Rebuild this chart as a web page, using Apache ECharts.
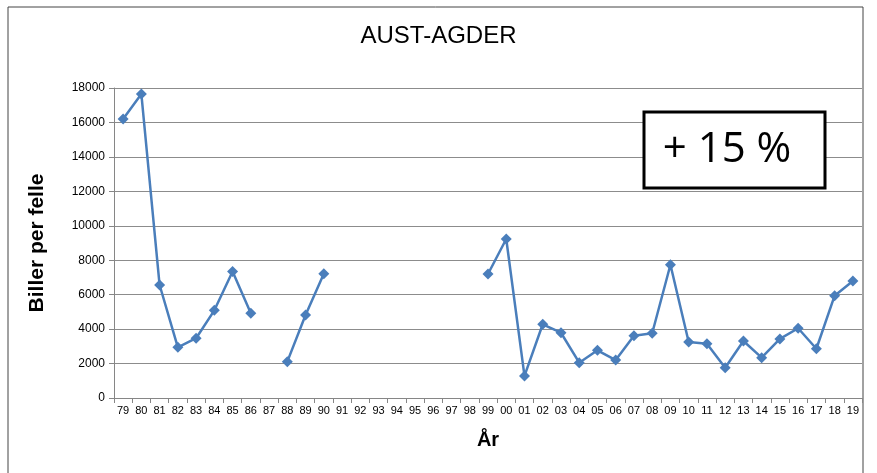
<!DOCTYPE html>
<html><head><meta charset="utf-8">
<script src="https://cdn.jsdelivr.net/npm/echarts@6/dist/echarts.min.js"></script>
<style>html,body{margin:0;padding:0;background:#fff}#c{width:877px;height:473px}</style>
</head><body><div id="c"></div>
<script>
const years = ['79','80','81','82','83','84','85','86','87','88','89','90','91','92','93','94','95','96','97','98','99','00','01','02','03','04','05','06','07','08','09','10','11','12','13','14','15','16','17','18','19'];
const billerPerFelle = [16200,17650,6560,2940,3470,5090,7350,4920,null,2110,4820,7220,null,null,null,null,null,null,null,null,7200,9230,1280,4280,3790,2050,2770,2200,3620,3760,7740,3250,3150,1760,3310,2340,3430,4050,2860,5940,6790];
const yTicks = {min:0, max:18000, interval:2000};
const chartTitle = 'AUST-AGDER';
const changeText = '+ 15 %';

const chart = echarts.init(document.getElementById('c'));
const tickFont = '"Liberation Sans Narrow","Liberation Sans",Arial,sans-serif';
chart.setOption({
  animation:false,
  title:{text:chartTitle,left:'center',top:19,textStyle:{fontFamily:'"Liberation Sans Narrow","Liberation Sans",Arial,sans-serif',fontSize:24,fontWeight:'normal',color:'#000'}},
  grid:{left:114,right:15,top:88,bottom:75},
  xAxis:{type:'category',data:years,boundaryGap:true,
    name:'År',nameLocation:'middle',nameGap:32,
    nameTextStyle:{fontFamily:'"Liberation Sans",Arial,sans-serif',fontSize:20,fontWeight:'bold',color:'#000'},
    axisLine:{lineStyle:{color:'#868686',width:1}},
    axisTick:{show:true,interval:0,length:5,lineStyle:{color:'#868686'}},
    axisLabel:{interval:0,fontFamily:tickFont,fontSize:11,color:'#000',margin:7},
    splitLine:{show:false}},
  yAxis:{type:'value',min:yTicks.min,max:yTicks.max,interval:yTicks.interval,
    name:'Biller per felle',nameLocation:'middle',nameGap:66,
    nameTextStyle:{fontFamily:'"Liberation Sans",Arial,sans-serif',fontSize:21,fontWeight:'bold',color:'#000'},
    axisLine:{show:true,lineStyle:{color:'#868686',width:1}},
    axisTick:{show:true,length:5,lineStyle:{color:'#868686'}},
    axisLabel:{formatter:function(v){return String(v);},fontFamily:'"Liberation Sans",Arial,sans-serif',fontSize:12,color:'#000',margin:9},
    splitLine:{show:true,lineStyle:{color:'#8c8c8c',width:1}}},
  series:[{type:'line',data:billerPerFelle,connectNulls:false,
    symbol:'diamond',symbolSize:11,
    lineStyle:{color:'#4a7ebb',width:2.5},
    itemStyle:{color:'#4a7ebb'}}],
  graphic:[
    {type:'rect',shape:{x:8,y:7,width:855,height:480},style:{fill:null,stroke:'#444',lineWidth:1},silent:true,z:-10},
    {type:'rect',shape:{x:644,y:112,width:181,height:76},style:{fill:'#fff',stroke:'#000',lineWidth:3},z:100},
    {type:'text',x:727,y:150,style:{text:changeText,fontFamily:'"Open Sans","Noto Sans",sans-serif',fontSize:42,fill:'#000',align:'center',verticalAlign:'middle'},z:101}
  ]
});
</script></body></html>
